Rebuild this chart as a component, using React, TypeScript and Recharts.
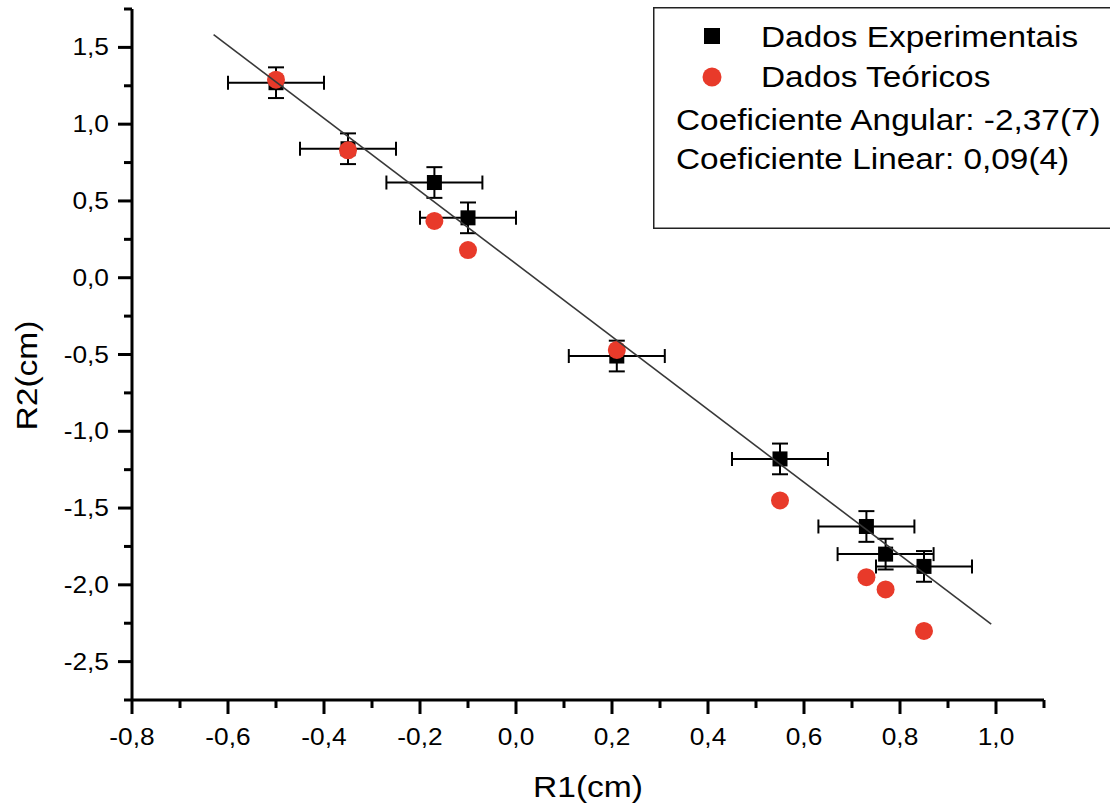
import React from 'react';
import { ScatterChart, Scatter, XAxis, YAxis, ErrorBar, Legend, Label } from 'recharts';

const FONT = '"Liberation Sans", Arial, Helvetica, sans-serif';
const STRETCH = 1.12;
const RED = '#e83a2a';
const INK = '#000000';

// Measured positions R1 and R2 (cm)
const r1Values = [-0.5, -0.35, -0.17, -0.1, 0.21, 0.55, 0.73, 0.77, 0.85];
const r2Experimental = [1.27, 0.84, 0.62, 0.39, -0.51, -1.18, -1.62, -1.8, -1.88];
const r2Theoretical = [1.29, 0.83, 0.37, 0.18, -0.47, -1.45, -1.95, -2.03, -2.3];
const r1Uncertainty = [0.1, 0.1, 0.1, 0.1, 0.1, 0.1, 0.1, 0.1, 0.1];
const r2Uncertainty = [0.1, 0.1, 0.1, 0.1, 0.1, 0.1, 0.1, 0.1, 0.1];

// Linear fit R2 = a*R1 + b
const fitSlope = -2.37;
const fitIntercept = 0.09;
const fitRange = [-0.63, 0.99];

const seriesNames = ['Dados Experimentais', 'Dados Teóricos'];
const coefficientLabels = ['Coeficiente Angular: -2,37(7)', 'Coeficiente Linear: 0,09(4)'];

const xMajorTicks = [-0.8, -0.6, -0.4, -0.2, 0.0, 0.2, 0.4, 0.6, 0.8, 1.0];
const xMinorTicks = [-0.7, -0.5, -0.3, -0.1, 0.1, 0.3, 0.5, 0.7, 0.9, 1.1];
const yMajorTicks = [-2.5, -2.0, -1.5, -1.0, -0.5, 0.0, 0.5, 1.0, 1.5];
const yMinorTicks = [-2.75, -2.25, -1.75, -1.25, -0.75, -0.25, 0.25, 0.75, 1.25, 1.75];

const xDomain = [-0.8, 1.1];
const yDomain = [-2.75, 1.75];

const experimentalData = r1Values.map((x, i) => ({
  x,
  y: r2Experimental[i],
  ex: r1Uncertainty[i],
  ey: r2Uncertainty[i],
}));
const theoreticalData = r1Values.map((x, i) => ({ x, y: r2Theoretical[i] }));
const fitData = fitRange.map((x) => ({ x, y: fitSlope * x + fitIntercept }));

const xTicks = [...xMajorTicks, ...xMinorTicks].sort((a, b) => a - b);
const yTicks = [...yMajorTicks, ...yMinorTicks].sort((a, b) => a - b);

const isIn = (list: number[], v: number) => list.some((t) => Math.abs(t - v) < 1e-9);
const fmt = (v: number) => v.toFixed(1).replace('.', ',');

const MAJOR_LEN = 14;
const MINOR_LEN = 8;

// Slightly widened sans text, anchored at (x, y) on its baseline
function WideText(props: {
  x: number;
  y: number;
  size: number;
  anchor?: 'start' | 'middle' | 'end';
  rotate?: number;
  children: React.ReactNode;
}) {
  const { x, y, size, anchor = 'start', rotate = 0, children } = props;
  return (
    <text
      x={0}
      y={0}
      transform={`translate(${x},${y}) rotate(${rotate}) scale(${STRETCH},1)`}
      textAnchor={anchor}
      fontFamily={FONT}
      fontSize={size}
      fill={INK}
    >
      {children}
    </text>
  );
}

function XTick(props: any) {
  const { x, y, payload } = props;
  const major = isIn(xMajorTicks, payload.value);
  return (
    <g>
      <line x1={x} x2={x} y1={y} y2={y + (major ? MAJOR_LEN : MINOR_LEN)} stroke={INK} strokeWidth={3} />
      {major && (
        <WideText x={x} y={y + 45} size={23.5} anchor="middle">
          {fmt(payload.value)}
        </WideText>
      )}
    </g>
  );
}

function YTick(props: any) {
  const { x, y, payload } = props;
  const major = isIn(yMajorTicks, payload.value);
  return (
    <g>
      <line x1={x} x2={x - (major ? MAJOR_LEN : MINOR_LEN)} y1={y} y2={y} stroke={INK} strokeWidth={3} />
      {major && (
        <WideText x={x - 23} y={y + 8} size={23.5} anchor="end">
          {fmt(payload.value)}
        </WideText>
      )}
    </g>
  );
}

function SquareMarker(props: any) {
  const { cx, cy } = props;
  return <rect x={cx - 7.5} y={cy - 7.5} width={15} height={15} fill={INK} />;
}

function CircleMarker(props: any) {
  const { cx, cy } = props;
  return <circle cx={cx} cy={cy} r={9} fill={RED} />;
}

function NoMarker() {
  return <g />;
}

function LegendBox(props: any) {
  const items = (props.payload || []).filter((p: any) => p.type !== 'none');
  const rowY = [40, 80];
  return (
    <svg width={470} height={222} style={{ display: 'block', overflow: 'visible' }}>
      <rect x={0.75} y={0.75} width={480} height={220.5} fill="#fff" stroke="#222" strokeWidth={1.5} />
      {items.map((item: any, i: number) => (
        <g key={item.value}>
          {i === 0 ? (
            <rect x={51} y={rowY[i] - 19} width={16} height={16} fill={INK} />
          ) : (
            <circle cx={59} cy={rowY[i] - 10} r={9.5} fill={RED} />
          )}
          <WideText x={108} y={rowY[i]} size={29.8}>
            {item.value}
          </WideText>
        </g>
      ))}
      {coefficientLabels.map((t, i) => (
        <WideText key={t} x={23} y={123 + i * 39} size={29.8}>
          {t}
        </WideText>
      ))}
    </svg>
  );
}

export default function App() {
  return (
    <div style={{ position: 'absolute', left: 0, top: 0, width: 1110, height: 805, overflow: 'hidden', background: '#fff' }}>
      <ScatterChart width={1110} height={805} margin={{ top: 9, right: 66, bottom: 0, left: 0 }}>
        <XAxis
          type="number"
          dataKey="x"
          domain={xDomain}
          ticks={xTicks}
          interval={0}
          allowDataOverflow
          height={105}
          tickSize={0}
          tickMargin={0}
          tick={<XTick />}
          axisLine={{ stroke: INK, strokeWidth: 3 }}
          tickLine={false}
        >
          <Label
            content={(p: any) => {
              const vb = p.viewBox;
              return (
                <WideText x={vb.x + vb.width / 2} y={vb.y + 97} size={30} anchor="middle">
                  R1(cm)
                </WideText>
              );
            }}
          />
        </XAxis>
        <YAxis
          type="number"
          dataKey="y"
          domain={yDomain}
          ticks={yTicks}
          interval={0}
          allowDataOverflow
          width={132}
          tickSize={0}
          tickMargin={0}
          tick={<YTick />}
          axisLine={{ stroke: INK, strokeWidth: 3 }}
          tickLine={false}
        >
          <Label
            content={(p: any) => {
              const vb = p.viewBox;
              return (
                <WideText x={vb.x + 37} y={vb.y + vb.height / 2 + 21} size={30} anchor="middle" rotate={-90}>
                  R2(cm)
                </WideText>
              );
            }}
          />
        </YAxis>
        <Legend
          layout="horizontal"
          verticalAlign="middle"
          align="center"
          content={<LegendBox />}
          wrapperStyle={{ position: 'absolute', left: 653, top: 7, width: 470, height: 222 }}
        />
        <Scatter name={seriesNames[0]} data={experimentalData} shape={<SquareMarker />} fill={INK} isAnimationActive={false}>
          <ErrorBar dataKey="ex" direction="x" width={7} strokeWidth={2} stroke={INK} isAnimationActive={false} />
          <ErrorBar dataKey="ey" direction="y" width={8} strokeWidth={2} stroke={INK} isAnimationActive={false} />
        </Scatter>
        <Scatter name={seriesNames[1]} data={theoreticalData} shape={<CircleMarker />} fill={RED} isAnimationActive={false} />
        <Scatter
          name="Ajuste linear"
          data={fitData}
          legendType="none"
          line={{ stroke: '#383838', strokeWidth: 1.6 }}
          shape={<NoMarker />}
          isAnimationActive={false}
        />
      </ScatterChart>
    </div>
  );
}
